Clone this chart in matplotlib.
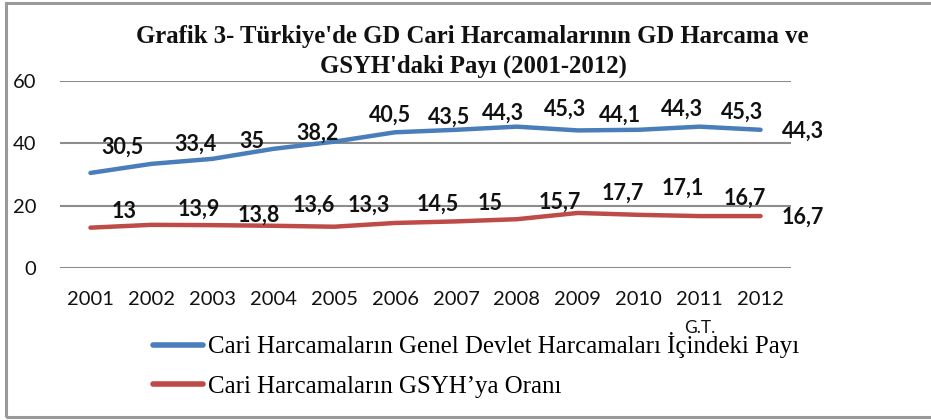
import matplotlib
matplotlib.use("Agg")
import matplotlib.pyplot as plt
from matplotlib.patches import Rectangle
from matplotlib.lines import Line2D
from matplotlib.transforms import blended_transform_factory

years = ["2001", "2002", "2003", "2004", "2005", "2006", "2007", "2008", "2009", "2010", "2011", "2012"]
share_gov = [30.5, 33.4, 35, 38.2, 40.5, 43.5, 44.3, 45.3, 44.1, 44.3, 45.3, 44.3]
share_gdp = [13, 13.9, 13.8, 13.6, 13.3, 14.5, 15, 15.7, 17.7, 17.1, 16.7, 16.7]
label_gov = "Cari Harcamaların Genel Devlet Harcamaları İçindeki Payı"
label_gdp = "Cari Harcamaların GSYH’ya Oranı"
title1 = "Grafik 3- Türkiye'de GD Cari Harcamalarının GD Harcama ve"
title2 = "GSYH'daki Payı (2001-2012)"

# label offsets in pixels (dx, dy; dy positive = up)
off_gov = [(32, 26), (44, 20), (40, 17), (44, 16), (56, 26), (54, 15), (47, 17), (48, 17),
           (42, 15), (43, 21), (42, 14), (42, -1)]
off_gdp = [(34, 16), (47, 16), (47, 10), (41, 21), (35, 22), (43, 19), (34, 18), (43, 17),
           (45, 20), (44, 27), (45, 18), (42, -1)]

W, H = 931, 420
fig = plt.figure(figsize=(W / 100, H / 100), dpi=100)
ax = fig.add_axes([60 / W, 1 - 268.3 / H, (791 - 60) / W, (268.3 - 80.7) / H])

blue = "#4a7ebb"
red = "#be4b48"
x = list(range(len(years)))
ax.plot(x, share_gov, color=blue, lw=3.2, solid_capstyle="round", zorder=3)
ax.plot(x, share_gdp, color=red, lw=3.2, solid_capstyle="round", zorder=3)

px2pt = 72 / 100
for i, v in enumerate(share_gov):
    dx, dy = off_gov[i]
    ax.annotate(f"{v:g}".replace(".", ","), (i, v), xytext=(dx * px2pt, dy * px2pt),
                textcoords="offset points", ha="center", va="center",
                fontsize=15.5, fontweight="bold", family="Lato", color="#111111", zorder=4)
for i, v in enumerate(share_gdp):
    dx, dy = off_gdp[i]
    ax.annotate(f"{v:g}".replace(".", ","), (i, v), xytext=(dx * px2pt, dy * px2pt),
                textcoords="offset points", ha="center", va="center",
                fontsize=15.5, fontweight="bold", family="Lato", color="#111111", zorder=4)

ax.set_xlim(-0.5, len(years) - 0.5)
ax.set_ylim(0, 60)
ax.set_yticks([0, 20, 40, 60])
ax.set_xticks(x)
ax.set_xticklabels(years)
for s in ax.spines.values():
    s.set_visible(False)
ax.grid(axis="y", color="#8c8c8c", lw=1.5)
ax.set_axisbelow(True)
ax.tick_params(axis="both", length=0, labelsize=14.5, colors="#111111")
ax.tick_params(axis="x", pad=16)
ax.tick_params(axis="y", pad=17)
for t in ax.get_xticklabels() + ax.get_yticklabels():
    t.set_family("Lato")

tr = blended_transform_factory(ax.transData, ax.transAxes)
ax.text(10, -0.318, "G.T.", transform=tr, ha="center", va="center",
        fontsize=12.5, family="Lato", color="#111111")

fig.text(472 / W, 1 - 36 / H, title1, ha="center", va="center", fontsize=17.8,
         fontweight="bold", family="Liberation Serif", color="#111111")
fig.text(473 / W, 1 - 66 / H, title2, ha="center", va="center", fontsize=17.8,
         fontweight="bold", family="Liberation Serif", color="#111111")

handles = [Line2D([], [], color=blue, lw=4, solid_capstyle="round"),
           Line2D([], [], color=red, lw=4, solid_capstyle="round")]
fig.legend(handles, [label_gov, label_gdp], loc="center left",
           bbox_to_anchor=(153 / W, 1 - 365 / H), frameon=False,
           prop={"family": "Liberation Serif", "size": 17.9},
           handlelength=2.0, handletextpad=0.2, labelspacing=0.68,
           borderpad=0, borderaxespad=0)

fig.add_artist(Rectangle((5.5 / W, 3 / H), 2.0, (417 - 3) / H, transform=fig.transFigure,
                         fill=False, edgecolor="#9a9a9a", lw=2.2, clip_on=False))

fig.savefig("out.png", dpi=100, facecolor="white")
